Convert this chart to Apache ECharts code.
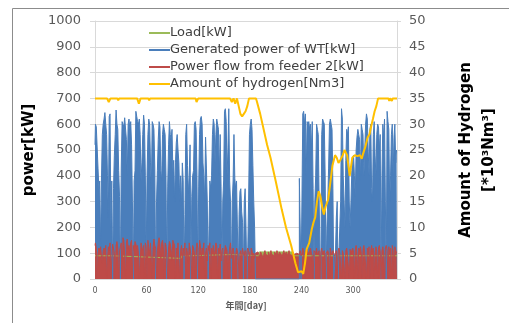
<!DOCTYPE html>
<html>
<head>
<meta charset="utf-8">
<script src="https://cdn.jsdelivr.net/npm/echarts@6/dist/echarts.min.js"></script>
<style>
  html, body { margin: 0; padding: 0; background: #fff; }
  #chart { width: 509px; height: 323px; }
</style>
</head>
<body>
<div id="chart"></div>
<script>
// 風力発電量 (1日ごと, day 0..351) [kW]
const windPower = [
  520, 600, 590, 585, 430, 350, 380, 120, 380, 560,
  600, 620, 645, 600, 560, 400, 240, 630, 640, 200,
  380, 0, 350, 480, 560, 655, 600, 580, 420, 320,
  0, 430, 610, 600, 590, 625, 630, 540, 400, 600,
  620, 580, 610, 520, 300, 0, 380, 420, 650, 630,
  610, 600, 620, 560, 380, 450, 560, 635, 600, 400,
  90, 400, 560, 620, 600, 450, 350, 610, 600, 580,
  430, 0, 300, 420, 540, 610, 590, 420, 380, 560,
  600, 580, 560, 400, 0, 360, 520, 610, 560, 540,
  580, 420, 460, 300, 450, 530, 560, 500, 450, 300,
  400, 280, 450, 380, 0, 250, 560, 600, 440, 330,
  400, 520, 0, 320, 400, 420, 600, 610, 580, 400,
  0, 360, 560, 620, 630, 600, 450, 400, 300, 550,
  430, 300, 0, 200, 380, 350, 400, 560, 620, 600,
  450, 560, 620, 600, 580, 400, 560, 360, 0, 300,
  380, 650, 660, 610, 400, 500, 660, 380, 300, 0,
  300, 380, 560, 390, 350, 380, 200, 0, 250, 340,
  350, 260, 220, 0, 300, 350, 200, 0, 100, 300,
  560, 600, 620, 580, 440, 300, 200, 0, 0, 0,
  0, 0, 0, 0, 0, 0, 0, 0, 0, 0,
  0, 0, 0, 0, 0, 0, 0, 0, 0, 0,
  0, 0, 0, 0, 0, 0, 0, 0, 0, 0,
  0, 0, 0, 0, 0, 0, 0, 0, 0, 0,
  0, 0, 0, 0, 0, 0, 0, 0,
  390, 200, 0, 300, 640, 650, 600, 640, 400, 610, 600, 610,
  580, 600, 500, 610, 350, 0, 300, 400, 600, 580,
  560, 300, 100, 0, 560, 620, 610, 600, 400, 0,
  200, 300, 430, 600, 620, 600, 580, 350, 0, 0,
  100, 240, 300, 0, 0, 200, 300, 660, 620, 400,
  300, 200, 460, 580, 560, 590, 300, 200, 300, 420,
  470, 480, 400, 320, 500, 550, 580, 560, 540, 380,
  600, 580, 560, 400, 400, 600, 640, 620, 500, 400,
  580, 600, 350, 300, 560, 610, 480, 400, 560, 600,
  590, 500, 560, 0, 400, 600, 550, 620, 300, 0,
  650, 610, 580, 300, 400, 560, 600, 400, 550, 600, 450, 500
];

// フィーダ2からの電力 (1日ごと) [kW]
const feederPower = [
  130, 140, 120, 0, 100, 120, 110, 125, 90, 60,
  110, 120, 100, 130, 0, 80, 125, 110, 140, 0,
  70, 135, 120, 100, 0, 130, 145, 120, 0, 110,
  125, 140, 0, 160, 150, 90, 0, 140, 155, 120,
  130, 100, 140, 150, 0, 130, 110, 145, 135, 120,
  130, 100, 0, 70, 140, 120, 110, 130, 0, 140,
  125, 0, 150, 120, 100, 140, 145, 0, 120, 155,
  130, 120, 0, 110, 140, 160, 130, 80, 140, 150,
  120, 0, 140, 130, 90, 0, 120, 145, 135, 110,
  70, 150, 140, 130, 0, 120, 100, 140, 135, 0,
  110, 130, 80, 120, 90, 140, 0, 120, 100, 60,
  140, 120, 90, 0, 130, 120, 100, 0, 110, 140,
  120, 0, 150, 130, 80, 120, 110, 140, 0, 100,
  120, 70, 130, 110, 140, 0, 120, 100, 130, 90,
  110, 140, 130, 0, 120, 100, 135, 70, 110, 120,
  0, 100, 130, 120, 110, 0, 90, 120, 140, 80,
  110, 120, 100, 0, 90, 120, 110, 80, 0, 100,
  110, 70, 120, 100, 90, 110, 0, 105, 120, 110,
  100, 0, 120, 110, 90, 100, 80, 100, 95, 105,
  100, 95, 85, 105, 100, 90, 80, 100, 110, 95,
  100, 90, 105, 85, 100, 110, 95, 100, 90, 105,
  100, 95, 110, 100, 90, 105, 100, 95, 85, 100,
  110, 95, 100, 105, 90, 100, 110, 95, 100, 90,
  105, 100, 95, 90, 100, 105, 100, 95,
  100, 110, 90, 100, 120, 105, 0, 110, 100, 120, 95, 100,
  110, 120, 100, 90, 0, 110, 105, 100, 120, 95,
  100, 110, 0, 105, 120, 100, 95, 110, 0, 100,
  105, 110, 100, 0, 120, 95, 100, 110, 105, 90,
  100, 110, 0, 105, 120, 100, 95, 0, 110, 100,
  105, 0, 110, 120, 95, 100, 0, 115, 100, 110,
  120, 105, 0, 110, 130, 100, 0, 120, 110, 125,
  100, 0, 115, 130, 105, 110, 0, 120, 100, 125,
  0, 110, 130, 105, 120, 0, 100, 125, 110, 0,
  120, 130, 105, 0, 110, 125, 100, 0, 120, 130,
  110, 0, 125, 105, 120, 0, 130, 110, 0, 125, 120, 100
];

// 負荷 [kW]
const loadDays = [0, 20, 21, 60, 61, 100, 101, 110, 111, 160, 161, 190, 191, 230, 231, 351];
const loadValues = [90, 90, 85, 85, 80, 80, 90, 90, 95, 95, 90, 90, 105, 105, 90, 90];

// 水素量 [*10^3 Nm3]
const h2Days = [0, 14, 16, 18, 26, 27, 28, 49, 51, 53, 62, 63, 64, 80, 81, 82, 117, 118, 120,
  157, 159, 161, 163, 165, 167, 169, 171, 173, 175, 177, 179, 187, 188, 192, 200, 204, 210,
  217, 222, 228, 233, 236, 238, 240, 242, 244, 246, 249, 252, 254, 256, 258, 260, 262, 264,
  266, 268, 271, 273, 276, 279, 281, 283, 285, 288, 290, 293, 296, 299, 302, 305, 308, 310,
  312, 314, 317, 319, 321, 323, 325, 327, 329, 341, 342, 343, 345, 346, 351];
const h2Values = [35, 35, 34.3, 35, 35, 34.6, 35, 35, 34, 35, 35, 34.6, 35, 35, 34.8, 35, 35, 34.3, 35,
  35, 34.3, 35, 34, 35, 33.5, 32, 31.5, 32, 32.5, 33.5, 35, 35, 34.5, 32, 26, 23.5, 19,
  13.5, 10, 6.5, 3, 1.3, 1.0, 1.5, 1.0, 3, 5.8, 7, 9.7, 11, 12, 15, 17, 16, 14,
  12.5, 14, 15.4, 18, 22, 24, 23.5, 22.5, 23, 24, 25, 24, 20, 23.5, 24, 23.8, 24, 23.3,
  24.5, 25.5, 27.5, 28, 29.6, 31, 32.5, 33.5, 35, 35, 34.5, 35, 34.5, 35, 35];

const leftTicks = [0, 1000, 100];
const rightTicks = [0, 50, 5];
const xTicks = [0, 351, 60];

const chart = echarts.init(document.getElementById('chart'));

const axisGray = '#d9d9d9';
const labelGray = '#595959';
const font = 'DejaVu Sans';

chart.setOption({
  animation: false,
  textStyle: { fontFamily: font },
  grid: { left: 95, right: 109, top: 21, bottom: 44 },
  graphic: [{
    type: 'polyline',
    shape: { points: [[12.5, 323], [12.5, 8.5], [509, 8.5]] },
    style: { stroke: '#8c8c8c', lineWidth: 1, fill: null }
  }],
  legend: {
    left: 144, top: 21, orient: 'vertical',
    itemWidth: 21, itemHeight: 2, itemGap: 3, icon: 'rect',
    textStyle: { fontFamily: font, fontSize: 13, color: '#404040', padding: [0, 0, 0, -5], lineHeight: 14 },
    data: ['Load[kW]', 'Generated power of WT[kW]', 'Power flow from feeder 2[kW]', 'Amount of hydrogen[Nm3]']
  },
  xAxis: {
    type: 'value', min: xTicks[0], max: xTicks[1], interval: xTicks[2],
    name: '年間[day]', nameLocation: 'middle', nameGap: 22,
    nameTextStyle: { fontFamily: 'Noto Sans CJK JP', fontSize: 9, fontWeight: 'bold', color: labelGray },
    axisLine: { show: true, lineStyle: { color: axisGray } },
    axisTick: { show: false },
    splitLine: { show: false },
    axisLabel: { fontSize: 8, color: labelGray, margin: 8, showMaxLabel: false }
  },
  yAxis: [{
    type: 'value', min: leftTicks[0], max: leftTicks[1], interval: leftTicks[2],
    name: 'power[kW]', nameLocation: 'middle', nameGap: 50,
    nameTextStyle: { fontSize: 15, fontWeight: 'bold', color: '#000' },
    axisLine: { show: true, lineStyle: { color: axisGray } },
    axisTick: { show: true, length: 5, lineStyle: { color: axisGray } },
    splitLine: { lineStyle: { color: axisGray } },
    axisLabel: { fontSize: 13, color: labelGray, margin: 14, formatter: v => String(v) }
  }, {
    type: 'value', min: rightTicks[0], max: rightTicks[1], interval: rightTicks[2],
    name: 'Amount of Hydrogen\n[*10³Nm³]', nameLocation: 'middle', nameGap: 58,
    nameTextStyle: { fontSize: 15, fontWeight: 'bold', color: '#000', lineHeight: 23, align: 'center' },
    axisLine: { show: true, lineStyle: { color: axisGray } },
    axisTick: { show: true, length: 4, lineStyle: { color: axisGray } },
    splitLine: { show: false },
    axisLabel: { fontSize: 13, color: labelGray, margin: 12 }
  }],
  series: [{
    name: 'Load[kW]', type: 'line', showSymbol: false, symbol: 'none',
    data: loadDays.map((d, i) => [d, loadValues[i]]),
    lineStyle: { color: '#9bbb59', width: 1 }, itemStyle: { color: '#9bbb59' },
    areaStyle: { color: '#9bbb59', opacity: 1 }
  }, {
    name: 'Generated power of WT[kW]', type: 'line', showSymbol: false, symbol: 'none',
    step: 'middle',
    data: windPower.map((v, i) => [i, v]),
    lineStyle: { color: '#4a7ebb', width: 1 }, itemStyle: { color: '#4a7ebb' },
    areaStyle: { color: '#4a7ebb', opacity: 1 }
  }, {
    name: 'Power flow from feeder 2[kW]', type: 'line', showSymbol: false, symbol: 'none',
    step: 'middle',
    data: feederPower.map((v, i) => [i, v]),
    lineStyle: { color: '#be4b48', width: 1 }, itemStyle: { color: '#be4b48' },
    areaStyle: { color: '#be4b48', opacity: 1 }
  }, {
    name: 'Amount of hydrogen[Nm3]', type: 'line', showSymbol: false, symbol: 'none',
    yAxisIndex: 1,
    data: h2Days.map((d, i) => [d, h2Values[i]]),
    lineStyle: { color: '#ffc000', width: 2 }, itemStyle: { color: '#ffc000' }
  }]
});
</script>
</body>
</html>
